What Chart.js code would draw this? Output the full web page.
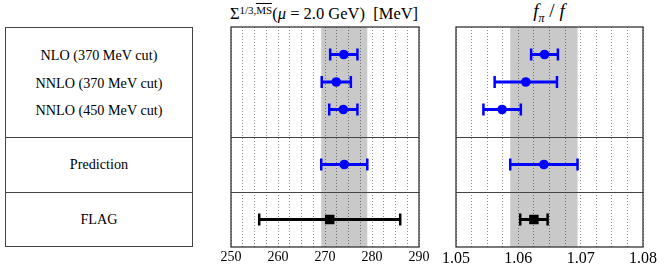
<!DOCTYPE html>
<html>
<head>
<meta charset="utf-8">
<script src="https://cdn.jsdelivr.net/npm/chart.js@4.4.0/dist/chart.umd.min.js"></script>
<style>
  body { margin: 0; background: #fff; font-family: "Liberation Serif", serif; color: #000; }
  #page { position: relative; width: 664px; height: 270px; overflow: hidden; }
  .box { position: absolute; left: 5px; top: 27px; width: 188px; height: 220px; border: 1px solid #444; box-sizing: border-box; }
  .row-label { position: absolute; left: 0; width: 100%; text-align: center; font-size: 14.2px; line-height: 18px; transform: translateY(-50%); white-space: nowrap; }
  .divider { position: absolute; left: 0; width: 100%; border-top: 1px solid #444; }
  .title { position: absolute; white-space: nowrap; transform: translateX(-50%); line-height: 20px; }
  .panel { position: absolute; top: 0; }
  .ov { border-top: 1px solid #000; padding-top: 0; }
</style>
</head>
<body>
<div id="page">
  <div class="title" style="left:324px; top:4px; font-size:16.5px;">&Sigma;<sup style="font-size:11px; vertical-align:5px; line-height:11px">1/3,<span class="ov">MS</span></sup>(<i>&mu;</i> = 2.0 GeV)&nbsp; [MeV]</div>
  <div class="title" style="left:549px; top:1px; font-size:19px;"><i>f</i><sub style="font-size:12px"><i>&pi;</i></sub> / <i>f</i></div>
  <div class="box" id="labelBox"></div>
  <div class="panel" style="left:215px;"><canvas id="sigmaChart" width="225" height="270"></canvas></div>
  <div class="panel" style="left:440px;"><canvas id="fpiChart" width="224" height="270"></canvas></div>
</div>
<script>
// ---- data ----
const rowLabels = ["NLO (370 MeV cut)", "NNLO (370 MeV cut)", "NNLO (450 MeV cut)", "Prediction", "FLAG"];
const rowPos = [1, 2, 3, 5, 7];
const dividers = [4, 6];

const sigmaValues = [274.0, 272.4, 273.9, 274.1, 271.0];
const sigmaErrors = [2.9, 3.1, 3.0, 4.9, 15.0];
const sigmaTicks = [250, 260, 270, 280, 290];

const fpiValues = [1.0642, 1.0612, 1.0574, 1.0641, 1.0625];
const fpiErrors = [0.00215, 0.0050, 0.0030, 0.0054, 0.0022];
const fpiTicks = [1.05, 1.06, 1.07, 1.08];

const ROWS = 8; // rows of the y axis (0 top .. 8 bottom)
const BLUE = "#0000ff";

// ---- left label box ----
const box = document.getElementById("labelBox");
const rowH = 218 / ROWS;
rowLabels.forEach((label, i) => {
  const el = document.createElement("div");
  el.className = "row-label";
  el.style.top = rowPos[i] * rowH + "px";
  el.textContent = label;
  box.appendChild(el);
});
dividers.forEach((d) => {
  const el = document.createElement("div");
  el.className = "divider";
  el.style.top = d * rowH + "px";
  box.appendChild(el);
});

function isFlag(i) {
  return rowLabels[i] === "FLAG";
}

// band, error bars, frame
const panelPlugin = {
  id: "panel",
  beforeDraw(chart, args, opts) {
    const { ctx, chartArea: a, scales } = chart;
    const lo = scales.x.getPixelForValue(opts.band[0]);
    const hi = scales.x.getPixelForValue(opts.band[1]);
    ctx.save();
    ctx.fillStyle = "#c9c9c9";
    ctx.fillRect(lo, a.top, hi - lo, a.bottom - a.top);
    ctx.restore();
  },
  beforeDatasetsDraw(chart, args, opts) {
    const { ctx, scales } = chart;
    const data = chart.data.datasets[0].data;
    ctx.save();
    data.forEach((p, i) => {
      const x1 = scales.x.getPixelForValue(p.x - opts.errors[i]);
      const x2 = scales.x.getPixelForValue(p.x + opts.errors[i]);
      const y = scales.y.getPixelForValue(p.y);
      ctx.strokeStyle = isFlag(i) ? "#000" : BLUE;
      ctx.lineWidth = 3;
      ctx.beginPath();
      ctx.moveTo(x1, y);
      ctx.lineTo(x2, y);
      ctx.stroke();
      ctx.lineWidth = 2.5;
      ctx.beginPath();
      ctx.moveTo(x1, y - 6);
      ctx.lineTo(x1, y + 6);
      ctx.moveTo(x2, y - 6);
      ctx.lineTo(x2, y + 6);
      ctx.stroke();
    });
    ctx.restore();
  },
  afterDraw(chart) {
    const { ctx, chartArea: a, scales } = chart;
    ctx.save();
    ctx.strokeStyle = "#444";
    ctx.lineWidth = 1;
    dividers.forEach((d) => {
      const y = Math.round(scales.y.getPixelForValue(d)) + 0.5;
      ctx.beginPath();
      ctx.moveTo(a.left, y);
      ctx.lineTo(a.right, y);
      ctx.stroke();
    });
    ctx.strokeStyle = "#333";
    ctx.lineWidth = 1.3;
    ctx.strokeRect(a.left, a.top, a.right - a.left, a.bottom - a.top);
    ctx.restore();
  },
};

function makePanel(id, values, errors, ticks, step, decimals, tickSize) {
  const pred = rowLabels.indexOf("Prediction");
  const min = ticks[0];
  const max = ticks[ticks.length - 1];
  const nSteps = Math.round((max - min) / step);

  return new Chart(document.getElementById(id), {
    type: "scatter",
    data: {
      datasets: [
        {
          data: values.map((v, i) => ({ x: v, y: rowPos[i] })),
          pointStyle: values.map((v, i) => (isFlag(i) ? "rect" : "circle")),
          pointRadius: values.map((v, i) => (isFlag(i) ? 6.7 : 4.8)),
          backgroundColor: values.map((v, i) => (isFlag(i) ? "#000" : BLUE)),
          borderWidth: 0,
        },
      ],
    },
    options: {
      responsive: false,
      animation: false,
      devicePixelRatio: 1,
      layout: { padding: { left: 16, right: 21, top: 27, bottom: 0 } },
      plugins: {
        legend: { display: false },
        tooltip: { enabled: false },
        panel: {
          band: [values[pred] - errors[pred], values[pred] + errors[pred]],
          errors,
        },
      },
      scales: {
        x: {
          type: "linear",
          min,
          max,
          grid: { color: "rgba(0,0,0,0.45)", lineWidth: 1, drawTicks: false },
          border: { display: false, dash: [1, 2] },
          ticks: {
            autoSkip: false,
            maxRotation: 0,
            padding: 2,
            color: "#000",
            font: { family: "Liberation Serif", size: tickSize },
            callback: (v) => {
              const t = ticks.find((t) => Math.abs(t - v) < step / 10);
              return t === undefined ? "" : t.toFixed(decimals);
            },
          },
          afterBuildTicks(scale) {
            const list = [];
            for (let k = 0; k <= nSteps; k++) list.push({ value: min + k * step });
            scale.ticks = list;
          },
          afterFit(scale) {
            scale.paddingLeft = 0;
            scale.paddingRight = 0;
            scale.height = 23;
          },
        },
        y: { type: "linear", display: false, min: 0, max: ROWS, reverse: true },
      },
    },
    plugins: [panelPlugin],
  });
}

makePanel("sigmaChart", sigmaValues, sigmaErrors, sigmaTicks, 2.5, 0, 14);
makePanel("fpiChart", fpiValues, fpiErrors, fpiTicks, 0.0025, 2, 16);
</script>
</body>
</html>
